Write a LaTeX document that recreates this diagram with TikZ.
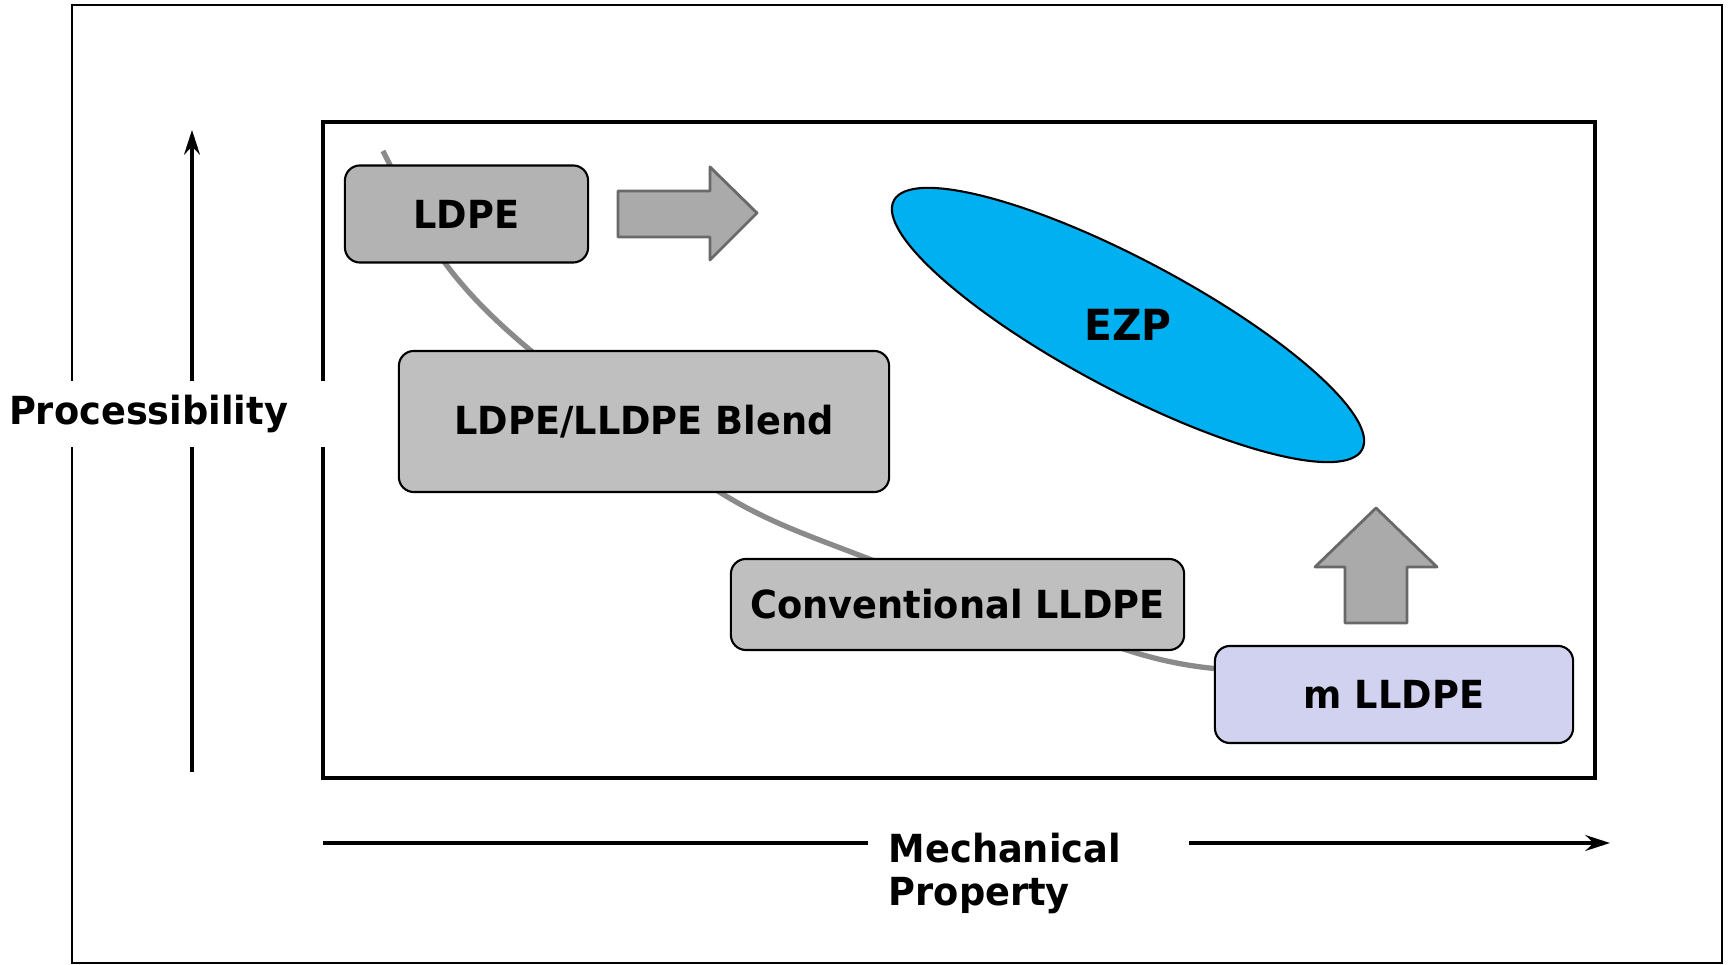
\documentclass[tikz,border=0pt]{standalone}
\usepackage{fontspec}
\setmainfont[FakeStretch=0.95]{DejaVu Sans}
\usepackage{tikz}
\usetikzlibrary{shapes.geometric, arrows.meta}
\definecolor{ldpegray}{RGB}{179,179,179}
\definecolor{blendgray}{RGB}{191,191,191}
\definecolor{mlilac}{RGB}{208,210,240}
\definecolor{ezpblue}{RGB}{0,176,240}
\definecolor{arrowgray}{RGB}{170,170,170}
\definecolor{arrowedge}{RGB}{105,105,105}
\definecolor{trendgray}{RGB}{138,138,138}
\tikzstyle{outerframe} = [draw=black, line width=0.6pt]
\tikzstyle{innerframe} = [draw=black, line width=0.95pt]
\tikzstyle{axis} = [line width=0.9pt, -{Stealth[length=7pt, width=4.5pt]}]
\tikzstyle{axislabel} = [rectangle, fill=white, font=\bfseries\fontsize{11}{12.4}\selectfont]
\tikzstyle{grade} = [rectangle, rounded corners=0.15cm, draw=black, line width=0.6pt, text centered, font=\bfseries\fontsize{11}{11.4}\selectfont]
\tikzstyle{trend} = [draw=trendgray, line width=1.5pt]
\tikzstyle{blockarrow} = [fill=arrowgray, draw=arrowedge, line width=0.8pt, line join=round]

\begin{document}
\begin{tikzpicture}[x=0.01cm, y=-0.01cm]
                \useasboundingbox (0,0) rectangle (1728,965);
                \draw [outerframe] (72,5) rectangle (1722,963);
                \draw [innerframe] (323,122) rectangle (1595,778);

                \coordinate (ybot) at (192,772);
                \coordinate (ytop) at (192,130);
                \coordinate (xleft) at (323,843);
                \coordinate (xright) at (1610,843);
                \draw [axis] (ybot) -- (ytop);
                \draw [axis] (xleft) -- (xright);
                \node (proc) [axislabel, minimum width=3.6cm, minimum height=0.65cm] at (148.5,414) {Processibility};
                \node (mech) [axislabel, anchor=north west, align=left, text width=2.79cm, inner xsep=0.21cm, inner ysep=0pt] at (867,832) {Mechanical\\Property};

                \draw [trend] plot [smooth] coordinates {(383,151) (445,263) (530,350) (721,493) (864,557) (1133,652) (1222,669)};

                \draw [blockarrow] (618,191) -- (710,191) -- (710,167) -- (757,213) -- (710,260) -- (710,237) -- (618,237) -- cycle;
                \draw [blockarrow] (1345,623) -- (1345,567) -- (1315,567) -- (1376,508) -- (1437,567) -- (1407,567) -- (1407,623) -- cycle;

                \node (ldpe) [grade, fill=ldpegray, minimum width=2.43cm, minimum height=0.97cm] at (466.5,214) {LDPE};
                \node (blend) [grade, fill=blendgray, minimum width=4.9cm, minimum height=1.41cm] at (644,421.5) {LDPE/LLDPE Blend};
                \node (conv) [grade, fill=blendgray, minimum width=4.53cm, minimum height=0.91cm] at (957.5,604.5) {Conventional LLDPE};
                \node (mlldpe) [grade, fill=mlilac, minimum width=3.58cm, minimum height=0.97cm] at (1394,694.5) {m LLDPE};
                \node (ezp) [ellipse, draw=black, line width=0.6pt, fill=ezpblue, minimum width=5.3cm, minimum height=1.24cm, rotate=-28, font=\bfseries\fontsize{12.2}{13}\selectfont] at (1128,325) {\rotatebox{28}{EZP}};
\end{tikzpicture}
\end{document}
